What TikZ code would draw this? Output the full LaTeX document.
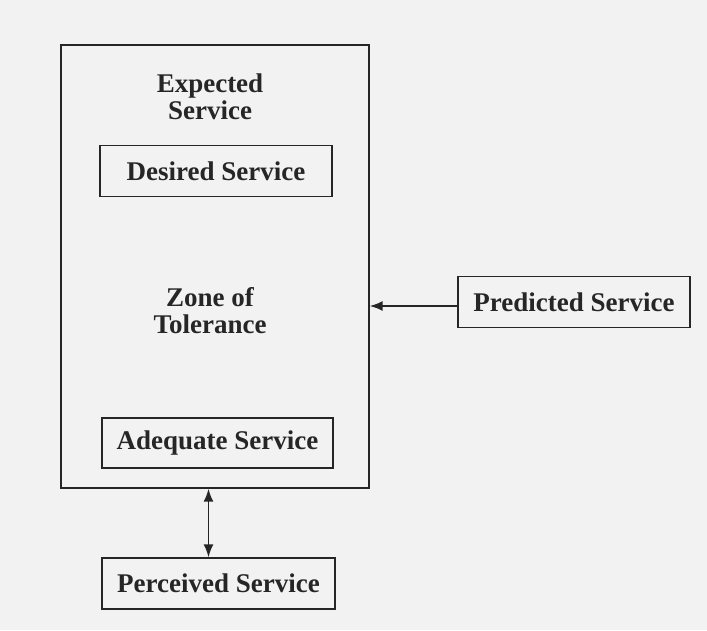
\documentclass[tikz,border=0pt]{standalone}
\usepackage{fontspec}
\setmainfont{Liberation Serif}
\usetikzlibrary{arrows.meta}

\begin{document}
\begin{tikzpicture}[x=1pt, y=-1pt, line width=1.3pt, draw=black!85,
    every node/.style={font=\fontsize{27}{27}\selectfont\bfseries, text=black!85, inner sep=0pt, align=center}]
      \fill[black!5] (0,0) rectangle (707,630);
      \useasboundingbox (0,0) rectangle (707,630);
      \node[draw, minimum width=308pt, minimum height=443pt] (zone) at (215,266.5) {};
      \node[] (exp) at (210,97) {Expected\\Service};
      \node[draw, minimum width=232pt, minimum height=51pt] (des) at (216,171) {Desired Service};
      \node[] (tol) at (210,311) {Zone of\\Tolerance};
      \node[draw, minimum width=231pt, minimum height=50pt] (ade) at (217.5,443) {Adequate Service};
      \node[draw, minimum width=232pt, minimum height=51pt] (pred) at (574,302) {Predicted Service};
      \node[draw, minimum width=233pt, minimum height=51pt] (perc) at (218.5,583.5) {Perceived Service};
      \draw[line width=1.8pt, -{Latex[length=13pt,width=10pt]}] ([yshift=-4pt]pred.west) -- ([yshift=-4pt]pred.west -| zone.east);
      \draw[line width=1.8pt, {Latex[length=13pt,width=10pt]}-{Latex[length=13pt,width=10pt]}] ([xshift=-10pt]perc.north) -- ([xshift=-10pt]perc.north |- zone.south);
    \end{tikzpicture}
\end{document}
